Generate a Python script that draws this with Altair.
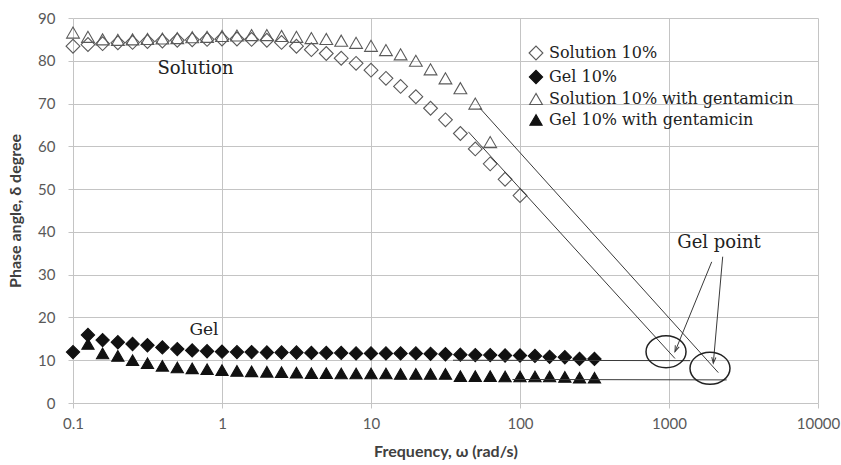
import altair as alt
import pandas as pd

# ---------------- data ----------------
freq = [0.1, 0.126, 0.158, 0.2, 0.251, 0.316, 0.398, 0.501, 0.631, 0.794,
        1, 1.26, 1.58, 2, 2.51, 3.16, 3.98, 5.01, 6.31, 7.94,
        10, 12.6, 15.8, 20, 25.1, 31.6, 39.8, 50.1, 63.1, 79.4,
        100, 126, 158, 200, 251, 316]

solution_10 = [83.4, 83.8, 84.0, 84.2, 84.3, 84.5, 84.6, 84.8, 84.9, 85.0,
               85.1, 85.1, 85.0, 84.8, 84.3, 83.4, 82.6, 81.7, 80.6, 79.4,
               77.8, 75.9, 74.0, 71.6, 68.9, 66.2, 63.0, 59.4, 55.9, 52.3,
               48.5]

gel_10 = [11.9, 15.9, 14.7, 14.2, 13.8, 13.5, 13.0, 12.6, 12.3, 12.1,
          12.0, 11.9, 11.9, 11.8, 11.8, 11.8, 11.7, 11.7, 11.7, 11.6,
          11.6, 11.6, 11.6, 11.6, 11.5, 11.4, 11.3, 11.2, 11.2, 11.1,
          11.1, 11.0, 10.8, 10.7, 10.3, 10.3]

solution_gent = [86.6, 85.6, 85.0, 84.9, 85.0, 85.1, 85.2, 85.3, 85.5, 85.6,
                 85.8, 85.9, 86.0, 86.0, 85.8, 85.6, 85.3, 85.1, 84.7, 84.2,
                 83.5, 82.5, 81.5, 80.0, 78.0, 75.9, 73.6, 70.0, 61.0]

gel_gent = [None, 13.8, 11.6, 11.0, 10.0, 9.3, 8.7, 8.3, 8.1, 7.9,
            7.7, 7.5, 7.4, 7.3, 7.2, 7.1, 7.0, 7.0, 6.9, 6.9,
            6.9, 6.9, 6.8, 6.8, 6.8, 6.8, 6.3, 6.3, 6.3, 6.2,
            6.2, 6.2, 6.2, 6.1, 5.9, 5.9]

series_names = ["Solution 10%", "Gel 10%",
                "Solution 10% with gentamicin", "Gel 10% with gentamicin"]

# annotation lines (data coordinates)
line_x1 = [45.0, 53.9, 35.5, 89.0, 1935, 2293]
line_y1 = [63.4, 68.9, 10.0, 5.5, 33.0, 34.2]
line_x2 = [1097, 2143, 1384, 2439, 1097, 1983]
line_y2 = [10.4, 7.1, 9.9, 5.4, 12.0, 9.3]

# ellipses marking gel points
ellipse_x = [955, 1884]
ellipse_y = [12.0, 8.1]

# arrow heads
arrow_x = [1097, 1983]
arrow_y = [12.0, 9.3]
arrow_angle = [22, 5]

# text annotations
note_text = ["Solution", "Gel", "Gel point"]
note_x = [0.664, 0.757, 2167]
note_y = [78.1, 17.1, 37.4]
note_size = [18, 17, 18]

x_ticks = [0.1, 1, 10, 100, 1000, 10000]
y_ticks = [0, 10, 20, 30, 40, 50, 60, 70, 80, 90]

# ---------------- tables ----------------
rows = []
for name, vals in zip(series_names, [solution_10, gel_10, solution_gent, gel_gent]):
    for f, v in zip(freq, vals):
        if v is not None:
            rows.append({"series": name, "freq": f, "phase": v})
df = pd.DataFrame(rows)

lines_df = pd.DataFrame({"x1": line_x1, "y1": line_y1, "x2": line_x2, "y2": line_y2})
ell_df = pd.DataFrame({"x": ellipse_x, "y": ellipse_y})
arr_df = pd.DataFrame({"x": arrow_x, "y": arrow_y, "a": arrow_angle})
note_df = pd.DataFrame({"t": note_text, "x": note_x, "y": note_y, "s": note_size})

x_scale = alt.Scale(type="log", domain=[0.1, 10000], nice=False)
y_scale = alt.Scale(domain=[0, 90], nice=False)

GRID = "#c4c4c4"
SANS = "Lato"
SERIF = "DejaVu Serif"

x_axis = alt.Axis(values=x_ticks, format="~g", grid=True, gridColor=GRID,
                  tickColor=GRID, tickSize=5, domain=False, labelFlush=False,
                  labelFont=SANS, labelFontSize=15, labelColor="#595959",
                  labelPadding=8, title="Frequency, ω (rad/s)", titleFont=SANS,
                  titleFontSize=16, titleFontWeight="bold", titleColor="#404040",
                  titlePadding=12)
y_axis = alt.Axis(values=y_ticks, grid=True, gridColor=GRID, tickColor=GRID,
                  tickSize=5, domain=False, labelFont=SANS, labelFontSize=15,
                  labelColor="#595959", labelPadding=13,
                  title="Phase angle, δ degree", titleFont=SANS, titleFontSize=16,
                  titleFontWeight="bold", titleColor="#404040", titlePadding=14)

points = alt.Chart(df).mark_point(filled=True, strokeWidth=1.1, opacity=1).encode(
    x=alt.X("freq:Q", scale=x_scale, axis=x_axis),
    y=alt.Y("phase:Q", scale=y_scale, axis=y_axis),
    shape=alt.Shape("series:N", sort=series_names,
                    scale=alt.Scale(domain=series_names,
                                    range=["diamond", "diamond", "triangle-up", "triangle-up"]),
                    legend=alt.Legend(title=None, orient="none", legendX=455, legendY=27,
                                      labelFont=SERIF, labelFontSize=16,
                                      labelColor="#222222", rowPadding=5,
                                      labelOffset=5, symbolStrokeWidth=1.1,
                                      labelLimit=400)),
    fill=alt.Fill("series:N", sort=series_names,
                  scale=alt.Scale(domain=series_names,
                                  range=["transparent", "#111111", "transparent", "#111111"])),
    stroke=alt.Stroke("series:N", sort=series_names,
                      scale=alt.Scale(domain=series_names,
                                      range=["#5a5a5a", "#111111", "#5a5a5a", "#111111"])),
    size=alt.Size("series:N", sort=series_names,
                  scale=alt.Scale(domain=series_names, range=[190, 150, 230, 170])),
)

lines = alt.Chart(lines_df).mark_rule(color="#3a3a3a", strokeWidth=1).encode(
    x=alt.X("x1:Q", scale=x_scale, axis=x_axis),
    y=alt.Y("y1:Q", scale=y_scale, axis=y_axis),
    x2="x2:Q",
    y2="y2:Q",
)

ellipses = alt.Chart(ell_df).mark_point(
    shape="M -1 0 A 1 0.8 0 1 0 1 0 A 1 0.8 0 1 0 -1 0 Z",
    size=1600, filled=False, stroke="#222222", strokeWidth=1.5, opacity=1,
).encode(
    x=alt.X("x:Q", scale=x_scale, axis=x_axis),
    y=alt.Y("y:Q", scale=y_scale, axis=y_axis),
)

arrows = alt.Chart(arr_df).mark_point(
    shape="M -0.35 -1 L 0 0 L 0.35 -1",
    size=144, filled=False, stroke="#3a3a3a", strokeWidth=1, opacity=1,
).encode(
    x=alt.X("x:Q", scale=x_scale, axis=x_axis),
    y=alt.Y("y:Q", scale=y_scale, axis=y_axis),
    angle=alt.Angle("a:Q", scale=None),
)

notes = alt.Chart(note_df).mark_text(font=SERIF, color="#222222").encode(
    x=alt.X("x:Q", scale=x_scale, axis=x_axis),
    y=alt.Y("y:Q", scale=y_scale, axis=y_axis),
    text="t:N",
    size=alt.Size("s:Q", scale=None),
)

chart = alt.layer(points, lines, ellipses, arrows, notes).properties(
    width=745, height=385,
    autosize=alt.AutoSizeParams(type="none"),
    padding={"left": 73, "top": 18, "right": 23, "bottom": 62},
    background="white",
).configure_view(stroke=None)

chart.save("out.html", embed_options={"renderer": "svg", "actions": False})
